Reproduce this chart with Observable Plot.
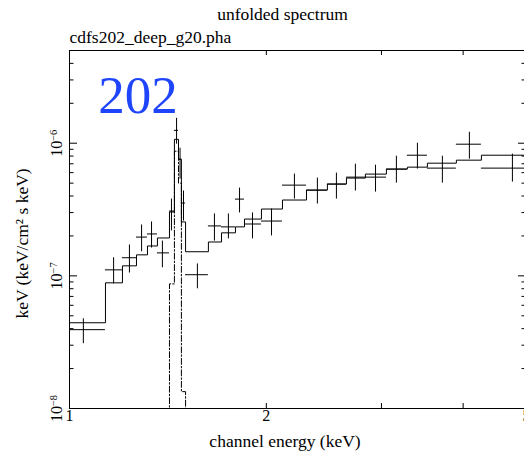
<!DOCTYPE html>
<html><head><meta charset="utf-8">
<script src="https://cdn.jsdelivr.net/npm/d3@7"></script>
<script src="https://cdn.jsdelivr.net/npm/@observablehq/plot@0.6"></script>
<style>
html,body{margin:0;padding:0;background:#fff;overflow:hidden;width:524px;height:456px}
#chart svg{max-width:none !important;overflow:visible}
#chart svg text,#chart svg tspan{font-family:"Liberation Serif","Times New Roman",serif !important}
</style></head><body><div id="chart"></div>
<script>
// Channel bin edges (keV) shared by data and total model
const binEdges = [0.965, 1.135, 1.205, 1.266, 1.316, 1.363, 1.422, 1.447, 1.468, 1.483, 1.505, 1.631, 1.708, 1.794, 1.852, 1.966, 2.117, 2.304, 2.480, 2.652, 2.835, 3.053, 3.287, 3.527, 3.906, 4.266, 5.25];
// Data point centres (keV)
const binMid = [1.050, 1.168, 1.235, 1.289, 1.335, 1.387, 1.432, 1.458, 1.476, 1.494, 1.569, 1.666, 1.750, 1.820, 1.905, 2.037, 2.208, 2.394, 2.560, 2.737, 2.938, 3.162, 3.405, 3.718, 4.089, 4.758];
// Unfolded flux E F(E) and error bounds
const flux   = [3.93e-8, 1.11e-7, 1.37e-7, 1.96e-7, 2.07e-7, 1.49e-7, 3.08e-7, 1.25e-6, 7.58e-7, 3.54e-7, 1.02e-7, 2.38e-7, 2.34e-7, 3.79e-7, 2.46e-7, 2.59e-7, 4.83e-7, 4.43e-7, 4.92e-7, 5.55e-7, 5.55e-7, 6.38e-7, 8.12e-7, 6.49e-7, 9.83e-7, 6.49e-7];
const fluxLo = [3.08e-8, 8.71e-8, 1.05e-7, 1.52e-7, 1.62e-7, 1.15e-7, 2.18e-7, 9.83e-7, 5.36e-7, 2.59e-7, 7.99e-8, 1.83e-7, 1.90e-7, 2.98e-7, 1.90e-7, 2.00e-7, 3.79e-7, 3.48e-7, 3.79e-7, 4.36e-7, 4.28e-7, 5.00e-7, 6.38e-7, 5.00e-7, 7.58e-7, 5.09e-7];
const fluxHi = [4.75e-8, 1.37e-7, 1.71e-7, 2.42e-7, 2.55e-7, 1.83e-7, 3.79e-7, 1.54e-6, 9.17e-7, 4.36e-7, 1.23e-7, 2.93e-7, 2.93e-7, 4.59e-7, 2.98e-7, 3.19e-7, 5.85e-7, 5.46e-7, 5.95e-7, 6.95e-7, 6.83e-7, 7.98e-7, 1.00e-6, 7.98e-7, 1.21e-6, 8.27e-7];
// Total model per bin
const modelVal = [4.43e-8, 8.86e-8, 1.19e-7, 1.44e-7, 1.68e-7, 1.93e-7, 3.03e-7, 1.07e-6, 7.58e-7, 2.55e-7, 1.52e-7, 1.80e-7, 2.11e-7, 2.34e-7, 2.68e-7, 3.19e-7, 3.73e-7, 4.43e-7, 4.92e-7, 5.46e-7, 5.85e-7, 6.38e-7, 6.60e-7, 7.07e-7, 7.45e-7, 8.12e-7];
// Line (gaussian) component
const lineEdges = [1.363, 1.422, 1.447, 1.468, 1.483, 1.505, 1.631];
const lineVal = [1e-9, 8.7e-8, 8.7e-7, 5.0e-7, 1.34e-8, 1e-9];
// Ticks
const xTickVals = [2, 3, 4];
const xTickLabels = [1, 2, 5];
const yMajor = [1e-8, 1e-7, 1e-6];
const yMinor = [2e-8,3e-8,4e-8,5e-8,6e-8,7e-8,8e-8,9e-8,2e-7,3e-7,4e-7,5e-7,6e-7,7e-7,8e-7,9e-7,2e-6,3e-6,4e-6];
const titleText = "unfolded spectrum";
const fileText = "cdfs202_deep_g20.pha";
const tagNote = [{x: 1.107, y: 1.68e-6, t: "202"}];
const xLabel = "channel energy (keV)";
const yLabel = "keV (keV/cm\u00b2 s keV)";

function steps(edges, vals) {
  const pts = [];
  vals.forEach((v, i) => { pts.push({x: edges[i], y: v}); pts.push({x: edges[i + 1], y: v}); });
  return pts;
}
const points = binMid.map((m, i) => ({mid: m, lo: binEdges[i], hi: binEdges[i + 1], f: flux[i], flo: fluxLo[i], fhi: fluxHi[i]}));

const W = 530, H = 456, ML = 69, MR = 4, MT = 50, MB = 48;
const FW = W - ML - MR, FH = H - MT - MB;
const FS = 17.5;
const SERIF = "Liberation Serif, Times New Roman, serif";

const svg = Plot.plot({
  width: W, height: H,
  marginLeft: ML, marginRight: MR, marginTop: MT, marginBottom: MB,
  style: {maxWidth: "none", background: "white", color: "black", fontFamily: SERIF, fontSize: "16px", overflow: "visible"},
  x: {type: "log", domain: [1, 5], axis: null},
  y: {type: "log", domain: [1e-8, 5e-6], axis: null},
  marks: [
    Plot.line(steps(binEdges, modelVal), {x: "x", y: "y", stroke: "black", strokeWidth: 1, clip: true}),
    Plot.line(steps(lineEdges, lineVal), {x: "x", y: "y", stroke: "black", strokeWidth: 1, strokeDasharray: "6,2,1.5,2", clip: true}),
    Plot.ruleY(points, {y: "f", x1: "lo", x2: "hi", stroke: "black", strokeWidth: 1, clip: true}),
    Plot.ruleX(points, {x: "mid", y1: "flo", y2: "fhi", stroke: "black", strokeWidth: 1, clip: true}),
    // inward ticks
    Plot.tickX(xTickVals, {x: d => d, insetTop: FH - 5, stroke: "black"}),
    Plot.tickX(xTickVals, {x: d => d, insetBottom: FH - 5, stroke: "black"}),
    Plot.tickY(yMajor, {y: d => d, insetRight: FW - 8, stroke: "black"}),
    Plot.tickY(yMajor, {y: d => d, insetLeft: FW - 8, stroke: "black"}),
    Plot.tickY(yMinor, {y: d => d, insetRight: FW - 4.5, stroke: "black"}),
    Plot.tickY(yMinor, {y: d => d, insetLeft: FW - 4.5, stroke: "black"}),
    Plot.frame({stroke: "black", strokeWidth: 1}),
    // tick labels
    Plot.text(xTickLabels, {x: d => d, text: d => String(d), frameAnchor: "bottom", dy: 12, lineAnchor: "bottom", textAnchor: "middle", fontSize: 16, fontFamily: SERIF}),
    Plot.text(yMajor, {y: d => d, text: d => "10^" + Math.round(Math.log10(d)), frameAnchor: "left", dx: -8, rotate: -90, textAnchor: "middle", lineAnchor: "bottom", fontSize: 16, fontFamily: SERIF}),
    // axis labels
    Plot.text([xLabel], {text: d => d, frameAnchor: "bottom", dx: -13, dy: 38, lineAnchor: "bottom", textAnchor: "middle", fontSize: FS, fontFamily: SERIF}),
    Plot.text([yLabel], {text: d => d, frameAnchor: "left", dx: -42, dy: 14, rotate: -90, lineAnchor: "bottom", textAnchor: "middle", fontSize: FS, fontFamily: SERIF}),
    // titles
    Plot.text([titleText], {text: d => d, frameAnchor: "top-left", dx: 282 - ML, dy: -31, lineAnchor: "bottom", textAnchor: "middle", fontSize: FS, fontFamily: SERIF}),
    Plot.text([fileText], {text: d => d, frameAnchor: "top-left", dx: 0, dy: -8, lineAnchor: "bottom", textAnchor: "start", fontSize: FS, fontFamily: SERIF}),
    // annotation
    Plot.text(tagNote, {x: "x", y: "y", text: "t", fill: "#1f45fc", fontSize: 53, textAnchor: "start", lineAnchor: "bottom", fontFamily: SERIF})
  ]
});

d3.select(svg).selectAll("text").each(function () {
  const txt = this.textContent;
  if (this.childElementCount === 0 && txt.indexOf("^") > 0) {
    const parts = txt.split("^");
    const s = d3.select(this);
    s.text(parts[0]);
    s.append("tspan").attr("dy", "-0.45em").attr("font-size", "0.65em").text(parts[1].replace("-", "\u2212"));
  }
});

document.getElementById("chart").appendChild(svg);
</script></body></html>
